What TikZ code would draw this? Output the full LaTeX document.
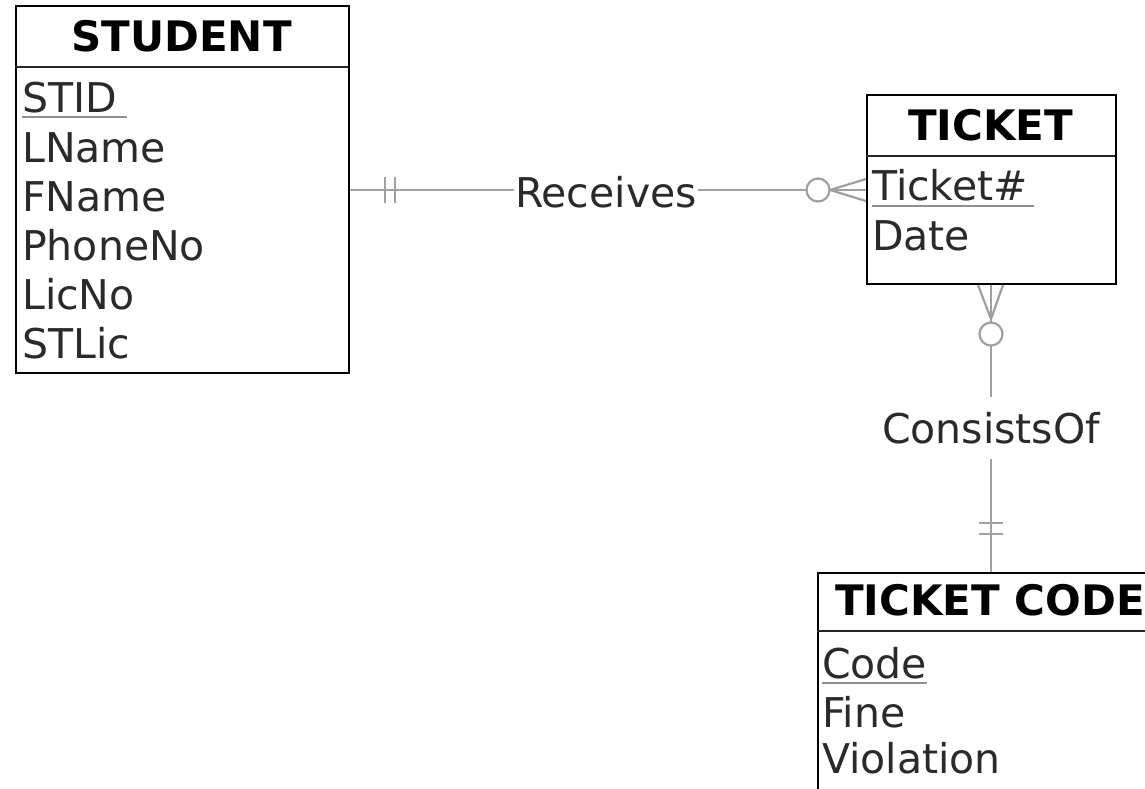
\documentclass[tikz,border=0pt]{standalone}
\usepackage{fontspec}
\setmainfont{DejaVu Sans}
\usetikzlibrary{calc}
\definecolor{relgray}{HTML}{A0A0A0}
\definecolor{attrtext}{HTML}{2A2A2A}
\definecolor{ulgray}{HTML}{909090}
\tikzset{
  entitybox/.style={draw=black, line width=2pt, fill=white, anchor=north west, inner sep=0pt},
  sepline/.style={draw=black!85, line width=2pt},
  hdr/.style={font=\fontsize{42}{48}\selectfont\bfseries, text=black, inner sep=0pt},
  attr/.style={font=\fontsize{41}{48}\selectfont, text=attrtext, inner sep=0pt, anchor=base west},
  ul/.style={draw=ulgray, line width=2pt},
  rel/.style={draw=relgray, line width=2.2pt},
  rellabel/.style={font=\fontsize{41}{48}\selectfont, text=attrtext, fill=white},
}
\begin{document}
\begin{tikzpicture}[x=1pt, y=-1pt]
\useasboundingbox (0,0) rectangle (1145,788);
\clip (0,0) rectangle (1145,788);

% STUDENT
\node[entitybox, minimum width=333pt, minimum height=367pt] (student) at (15,5) {};
\draw[sepline] (15,67) -- (348,67);
\node[hdr, anchor=base] (studentH) at (181.5,51) {STUDENT};
\node[attr] (stid) at (22,112) {STID};
\draw[ul] (22,117) -- (127,117);
\node[attr] (lname) at (22,162) {LName};
\node[attr] (fname) at (22,211) {FName};
\node[attr] (phone) at (22,260) {PhoneNo};
\node[attr] (licno) at (22,309) {LicNo};
\node[attr] (stlic) at (22,358) {STLic};

% TICKET
\node[entitybox, minimum width=249pt, minimum height=189pt] (ticket) at (866,94) {};
\draw[sepline] (866,156) -- (1115,156);
\node[hdr, anchor=base] (ticketH) at (990.5,140) {TICKET};
\node[attr] (tno) at (872,200) {Ticket\#};
\draw[ul] (872,206) -- (1034,206);
\node[attr] (tdate) at (872,250) {Date};

% TICKET CODE
\node[entitybox, minimum width=370pt, minimum height=260pt] (tcode) at (817,572) {};
\draw[sepline] (817,631) -- (1187,631);
\node[hdr, anchor=base west] (tcodeH) at (835,615) {TICKET CODE};
\node[attr] (code) at (822,678) {Code};
\draw[ul] (822,683) -- (927,683);
\node[attr] (fine) at (822,727) {Fine};
\node[attr] (viol) at (822,773) {Violation};

% Receives
\coordinate (sR) at (student.east |- 0,190);
\coordinate (tR) at (ticket.west |- 0,190);
\draw[rel] (sR) -- (tR);
\node[rellabel, anchor=base, inner xsep=1pt, inner ysep=2pt] (rec) at (606,207) {Receives};
\draw[rel] ($(sR)+(35,-13)$) -- ($(sR)+(35,13)$);
\draw[rel] ($(sR)+(45,-13)$) -- ($(sR)+(45,13)$);
\draw[rel] ($(tR)+(-36,0)$) -- ($(tR)+(0,-11)$);
\draw[rel] ($(tR)+(-36,0)$) -- ($(tR)+(0,11)$);
\draw[rel, fill=white] ($(tR)+(-48,0)$) circle (11.5);

% ConsistsOf
\coordinate (tC) at (ticket.south -| 991,0);
\coordinate (cC) at (tcode.north -| 991,0);
\draw[rel] (tC) -- (cC);
\node[rellabel, anchor=base, inner xsep=2pt, inner ysep=15pt] (cons) at (991,443) {ConsistsOf};
\draw[rel] ($(tC)+(-13,0)$) -- ($(tC)+(0,34)$);
\draw[rel] ($(tC)+(12,0)$) -- ($(tC)+(0,34)$);
\draw[rel, fill=white] ($(tC)+(0,49)$) circle (11.5);
\draw[rel] ($(cC)+(-12,-49)$) -- ($(cC)+(12,-49)$);
\draw[rel] ($(cC)+(-12,-38)$) -- ($(cC)+(12,-38)$);
\end{tikzpicture}
\end{document}
